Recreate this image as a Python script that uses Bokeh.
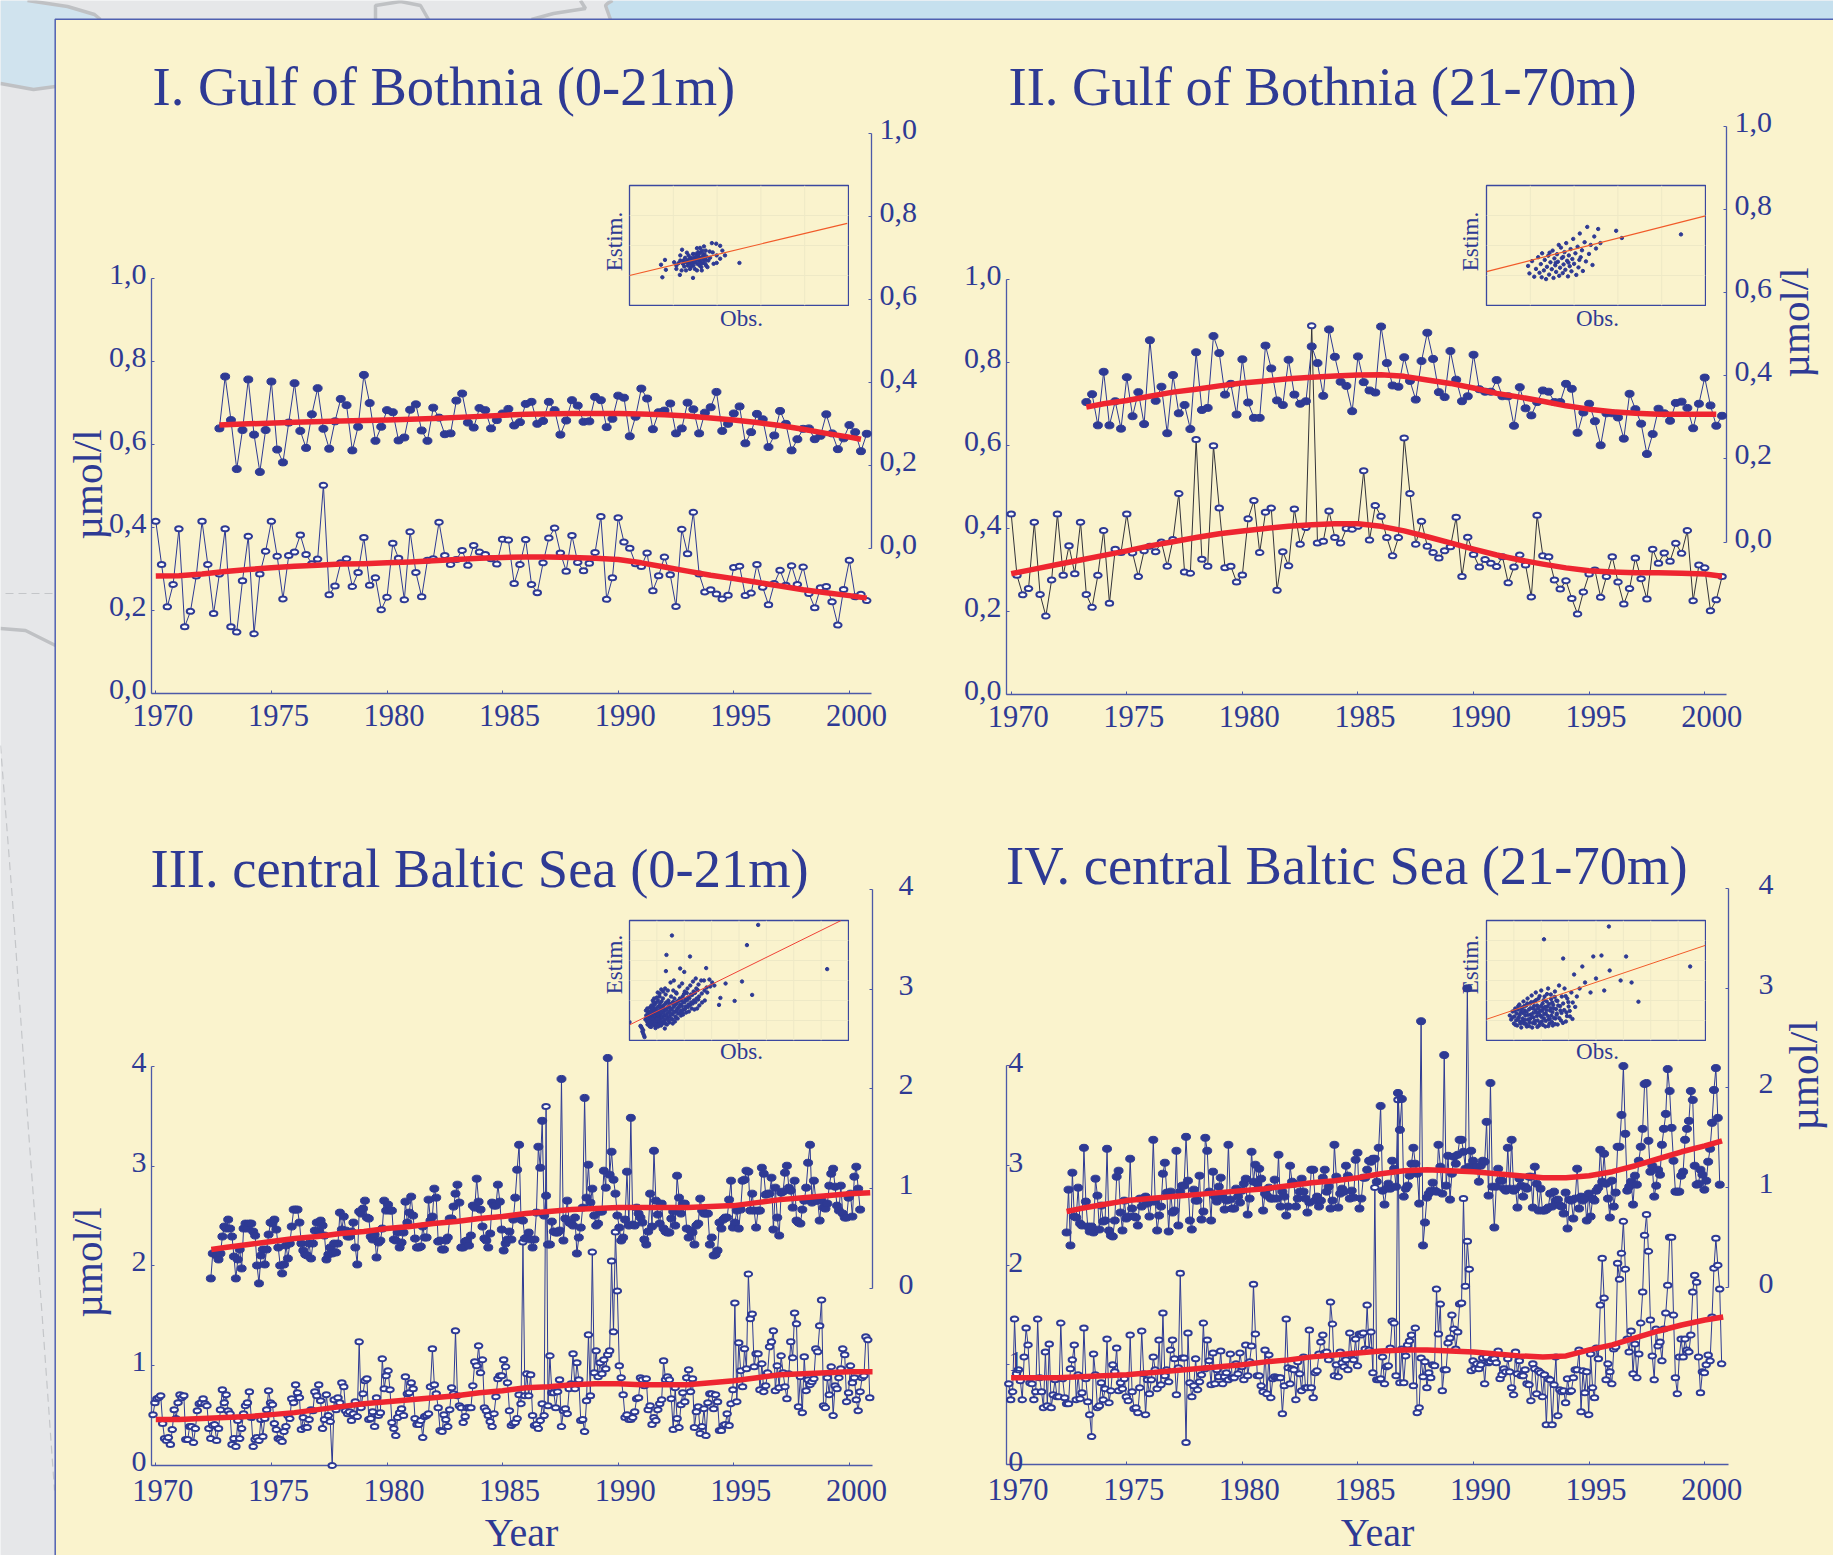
from bokeh.plotting import figure
from bokeh.models import Range1d, LinearAxis, FixedTicker
from bokeh.core.properties import value
from bokeh.embed import file_html
from bokeh.resources import INLINE

SERIF = "Liberation Serif"
INK = "#2e3a94"
AXIS = "#4c59a8"
RED = "#ee2530"
CREAM = "#faf3cd"

# ---------------- Panel I (quarterly, lower on left scale, upper on right scale)
p1_low = [.415,.311,.209,.263,.397,.161,.198,.283,.415,.311,.193,.288,.397,.161,.148,.272,.379,.144,.288,.343,
 .415,.331,.228,.333,.341,.382,.335,.313,.324,.502,.238,.259,.315,.325,.258,.292,.376,.261,.279,.202,
 .232,.362,.326,.226,.390,.292,.233,.321,.325,.413,.333,.311,.323,.345,.309,.357,.341,.335,.325,.312,
 .372,.370,.265,.311,.371,.263,.243,.315,.375,.399,.339,.295,.381,.316,.296,.314,.340,.427,.227,.279,
 .424,.365,.350,.313,.306,.339,.248,.284,.329,.286,.210,.396,.337,.437,.288,.245,.250,.240,.228,.237,
 .304,.307,.236,.242,.311,.256,.214,.265,.297,.261,.308,.263,.305,.241,.207,.255,.258,.221,.165,.251,
 .321,.233,.239,.224]
p1_up = [.289,.414,.309,.191,.285,.407,.274,.184,.285,.402,.238,.207,.303,.398,.283,.242,.323,.386,.288,.240,
 .306,.360,.345,.236,.293,.418,.350,.259,.293,.333,.328,.260,.267,.334,.347,.284,.259,.339,
 .315,.275,.277,.356,.373,.303,.291,.338,.333,.289,.309,.325,.336,.296,.304,.348,.353,.300,.307,.353,
 .333,.274,.308,.357,.344,.305,.306,.365,.357,.292,.312,.368,.363,.270,.317,.385,.361,.287,.328,.332,
 .349,.277,.289,.351,.335,.277,.327,.340,.377,.283,.300,.325,.342,.253,.280,.324,.311,.244,.272,.331,
 .300,.236,.263,.288,.289,.263,.271,.323,.277,.239,.265,.297,.280,.234,.276]
p1_low_trend_t = [1970,1971,1972,1973,1974,1975,1976,1977,1978,1979,1980,1981,1982,1983,1984,1985,1986,1987,1988,1989,1990,1991,1992,1993,1994,1995,1996,1997,1998,1999,2000,2000.75]
p1_low_trend = [.283,.284,.288,.294,.299,.303,.307,.309,.312,.313,.315,.317,.320,.323,.326,.328,.329,.329,.328,.326,.323,.315,.305,.295,.285,.277,.268,.259,.250,.243,.236,.230]
p1_up_trend_t = [1972.75,1974,1976,1978,1980,1982,1984,1986,1988,1990,1991,1992,1993,1994,1995,1996,1997,1998,1999,2000,2000.5]
p1_up_trend = [.297,.300,.304,.307,.309,.313,.318,.323,.325,.325,.324,.322,.319,.314,.309,.303,.296,.287,.277,.268,.263]

# ---------------- Panel II
p2_low = [.435,.287,.240,.255,.415,.241,.189,.276,.435,.287,.358,.291,.415,.241,.210,.287,.395,.220,.350,.342,
 .435,.341,.284,.346,.357,.344,.367,.309,.373,.484,.295,.292,.614,.326,.309,.599,.449,.305,.309,.271,
 .288,.423,.467,.342,.439,.449,.251,.344,.310,.447,.362,.402,.888,.365,.369,.442,.378,.365,.400,.398,
 .405,.539,.372,.455,.429,.378,.334,.378,.618,.484,.362,.417,.357,.342,.329,.346,.356,.427,.284,.379,
 .337,.307,.325,.316,.308,.332,.269,.307,.336,.312,.235,.432,.334,.332,.276,.254,.274,.231,.194,.247,
 .290,.300,.234,.284,.332,.271,.218,.255,.329,.279,.230,.350,.316,.341,.321,.364,.340,.395,.226,.312,
 .305,.202,.228,.284]
p2_up = [.337,.356,.281,.410,.281,.339,.273,.397,.303,.361,.284,.486,.340,.374,.262,.402,.310,.330,.272,.457,
 .318,.323,.496,.455,.355,.381,.307,.440,.336,.299,.299,.473,.418,.341,.330,.439,.355,.333,.339,.471,
 .431,.352,.512,.446,.386,.376,.315,.447,.385,.365,.360,.519,.431,
 .377,.374,.445,.388,.343,.436,.504,.441,.361,.349,.460,.391,.339,.351,.451,.368,.362,.362,.390,.351,
 .351,.280,.373,.322,.305,.337,.365,.362,.337,.337,.381,.369,.263,.312,.333,.291,.233,.310,.310,.300,
 .249,.357,.320,.285,.212,.260,.321,.310,.292,.335,.338,.323,.274,.333,.396,.329,.280,.304]
p2_low_trend_t = p1_low_trend_t
p2_low_trend = [.291,.302,.313,.324,.335,.346,.358,.368,.378,.387,.394,.400,.405,.409,.411,.411,.405,.394,.380,.365,.350,.336,.324,.314,.305,.298,.295,.293,.293,.292,.290,.285]
p2_up_trend_t = [1973.25,1974,1975,1976,1977,1978,1979,1980,1981,1982,1983,1984,1985,1986,1987,1988,1989,1990,1991,1992,1993,1994,1995,1996,1997,1998,1999,2000,2000.5]
p2_up_trend = [.325,.333,.341,.351,.361,.368,.376,.383,.388,.393,.397,.400,.402,.403,.399,.390,.382,.371,.358,.349,.339,.328,.320,.314,.310,.308,.308,.308,.308]

# ---------------- Panel III (monthly)
p3_low = [.51,.63,.67,.68,.70,.42,.27,.25,.28,.21,.36,.56,
 .47,.63,.71,.68,.70,.26,.26,.39,.39,.23,.37,.55,
 .62,.63,.67,.62,.60,.37,.27,.40,.41,.25,.37,.56,
 .76,.63,.71,.55,.52,.21,.27,.19,.45,.27,.37,.52,
 .60,.63,.74,.48,.19,.26,.28,.25,.46,.29,.47,.56,
 .75,.63,.61,.42,.36,.27,.26,.24,.34,.39,.50,.47,
 .67,.63,.81,.73,.68,.36,.48,.38,.38,.46,.56,.55,
 .74,.70,.81,.65,.37,.46,.71,.50,.44,.0,.66,.56,
 .68,.63,.83,.79,.55,.52,.54,.45,.52,.64,.49,1.24,
 .58,.72,.85,.87,.46,.47,.54,.39,.68,.50,.53,1.07,
 .77,.90,.95,.76,.43,.37,.30,.48,.53,.57,.50,.89,
 .72,.73,.83,.77,.47,.41,.41,.45,.28,.49,.50,.52,
 .79,1.17,.81,.72,.58,.35,.34,.51,.46,.39,.56,.78,
 .72,1.35,.70,.60,.58,.43,.49,.58,.58,.58,.80,1.04,
 1.00,1.20,.93,1.06,.58,.55,.50,.44,.39,.52,.69,.87,
 .90,.90,1.06,.99,.83,.55,.40,.42,.43,.47,.71,.62,2.24,.70,.92,.70,.91,.50,.40,.41,.37,.45,.62,.50,3.60,.60,
 1.10,.73,.73,.58,.74,.86,.39,.55,.57,.52,.77,.82,1.12,.77,1.03,.86,.45,.46,.34,.65,1.31,.70,2.14,.93,
 1.15,.89,1.03,.92,1.06,.97,1.11,1.15,2.05,1.34,2.34,1.75,1.00,.88,.71,.48,.51,.46,.46,.48,.54,.67,.68,.88,
 .86,.80,.87,.56,.60,.41,.48,.45,.56,.62,.66,1.05,.86,.89,.86,.67,.36,.78,.47,.38,.61,.73,.64,.88,
 .96,.74,.87,.38,.54,.59,.32,.39,.57,.30,.63,.72,.72,.57,.71,.64,.35,.35,.40,.41,.52,.40,.62,.76,
 1.63,.64,1.23,.95,.79,1.17,.97,1.92,1.47,1.52,.99,1.12,1.12,.76,1.02,.74,.80,.93,1.19,1.24,1.35,.75,1.00,.78,
 1.10,.93,.79,.67,.92,1.24,1.08,1.53,1.42,.59,.89,.53,1.09,.75,.86,.81,.84,.87,1.17,1.14,1.40,1.66,.60,.58,
 .88,.71,.99,.50,.80,.77,.88,.97,1.17,1.11,.64,.73,1.00,.83,.88,.66,.55,.74,.88,.90,1.29,1.26,.68]
p3_up = [.10,.35,.35,.33,.29,.35,.52,.62,.60,.69,.60,.52,.32,.10,.29,.39,.20,.60,.65,.60,.65,.65,.57,.53,
 .23,.05,.33,.39,.24,.39,.54,.66,.65,.69,.59,.41,.23,.15,.24,.43,.30,.45,.62,.79,.79,.79,.66,.45,
 .38,.34,.33,.45,.30,.45,.58,.66,.57,.68,.63,.53,.29,.34,.41,.35,.45,.36,.45,.76,.59,.72,.58,.52,
 .52,.57,.66,.41,.24,.77,.75,.80,.88,.71,.70,.52,.49,.54,.31,.46,.48,.60,.88,.78,.84,.78,.78,.49,
 .48,.56,.41,.46,.56,.87,.66,.76,.92,.73,.50,.41,.41,.42,.62,.51,.51,.89,.68,.72,1.00,.91,.47,.48,
 .39,.39,.48,.51,.70,.70,.82,.95,1.04,.86,.41,.41,.47,.48,.43,.53,.83,.81,1.10,.87,.79,.62,.50,.48,
 .41,.55,.86,.83,.83,1.04,.87,.59,.38,.45,.49,.57,.49,.69,.91,1.19,1.44,.69,.68,.50,.51,.56,.49,.41,
 .49,.76,1.42,1.21,1.68,.73,.93,.44,.44,.67,.57,.56,.56,.58,2.10,.48,.70,.88,.66,.65,.63,.71,.35,.51,
 .61,.81,1.91,.91,1.24,.86,1.00,.73,.63,.65,.77,.77,1.18,1.01,2.31,1.14,1.37,1.09,.95,.73,.61,.48,.51,.69,
 1.17,.63,1.71,.64,.63,.81,.75,.71,.66,.49,.44,.57,.95,.62,1.38,.88,.74,.65,.85,.60,.57,.56,.56,.70,
 .77,.63,1.13,.91,.75,.85,.85,.60,.51,.58,.56,.44,.63,.65,.90,.78,.75,.75,.75,.44,.51,.33,.34,.38,
 .66,.60,.69,.71,.71,.89,1.08,.61,.66,.78,.60,.79,1.08,1.09,1.18,1.17,.78,.95,.78,.61,.78,.78,1.21,1.15,
 .94,.95,.95,1.11,.59,1.01,.71,.53,.96,.97,1.16,1.23,1.01,.98,.81,1.08,.68,.66,.65,.79,.88,1.01,1.26,1.44,
 .86,1.08,.88,.88,.68,.88,.81,.80,.85,1.03,1.15,1.20,1.02,.83,.78,1.03,.75,.71,.71,.91,.95,.72,1.12,1.22,1.00,.79]
p3_low_trend_t = list(range(1970, 2002))
p3_low_trend = [.46,.46,.47,.48,.49,.51,.53,.56,.59,.62,.64,.66,.68,.70,.73,.75,.78,.79,.81,.82,.82,.81,.81,.81,.83,.85,.88,.91,.92,.93,.94,.94]
p3_up_trend_t = [1972.4,1973,1974,1975,1976,1977,1978,1979,1980,1981,1982,1983,1984,1985,1986,1987,1988,1989,1990,1991,1992,1993,1994,1995,1996,1997,1998,1999,2000,2000.9]
p3_up_trend = [.39,.41,.44,.47,.50,.52,.55,.57,.60,.62,.65,.67,.70,.72,.75,.77,.79,.80,.81,.81,.81,.81,.82,.83,.86,.89,.91,.93,.95,.96]

# ---------------- Panel IV (monthly)
p4_low = [.81,.65,.73,1.46,.91,.95,.84,.65,1.08,1.37,1.20,.82,.81,.65,.73,1.46,.87,.73,.57,1.13,.59,1.21,.57,.70,
 .85,.68,.68,1.42,.86,.67,.61,.61,.96,1.05,1.20,.65,.90,.66,.72,1.37,.86,.63,.50,.28,1.11,.90,.57,.59,
 .82,.65,.76,1.26,.62,.74,1.00,.93,1.17,.74,.82,.76,.86,.68,.64,1.30,.73,.56,.57,.52,.77,1.34,.91,.50,
 .85,.71,.85,1.08,.95,.76,1.25,.80,1.52,.89,.95,.83,1.15,1.25,1.06,.70,.97,1.92,1.07,1.07,.22,1.32,.82,.68,
 .79,1.06,.75,.83,.90,1.42,.96,1.25,1.04,.80,1.12,.81,.95,.88,1.14,.81,.88,.92,.85,1.11,.87,.87,1.01,.91,
 1.12,.98,.85,1.20,.89,1.03,1.19,1.81,1.31,.89,.89,.79,.73,1.15,.71,1.10,.67,.86,.88,.87,.87,.87,.51,.79,
 1.46,.97,.81,.96,.95,.65,1.03,.91,.74,1.08,.77,.77,1.35,.77,.67,.92,.94,1.11,1.23,1.30,1.12,1.13,1.05,1.63,
 1.41,.89,1.00,.88,1.13,1.02,.98,1.05,.95,1.32,1.11,1.05,1.26,.99,1.31,1.30,1.32,1.16,1.60,1.15,1.33,.92,2.78,.85,
 .85,.86,1.08,.81,.98,.99,1.17,1.44,1.42,.89,3.66,.82,1.16,.82,1.09,1.20,1.24,1.30,.79,1.37,.52,.57,1.07,.88,
 1.03,.77,.92,.87,1.00,.99,1.76,1.31,1.61,.74,.95,.95,1.22,1.27,1.50,1.36,1.16,1.33,1.61,1.62,2.67,1.79,2.24,1.96,
 .94,1.04,.96,1.01,.96,1.00,1.07,.81,1.08,1.02,1.03,1.06,1.06,1.02,1.14,.86,.90,.96,.93,1.06,.93,.77,.70,1.13,
 .91,1.04,.89,.89,.95,.81,.80,.64,1.01,.96,.71,.94,.92,.68,.90,.40,.86,.85,.40,.80,1.08,.49,.75,.73,
 .74,.62,.86,.73,.74,.87,.95,.95,1.15,.53,.94,.72,.93,.50,1.11,.77,.67,1.17,1.06,1.60,2.07,1.67,.85,1.01,
 .93,.81,1.16,1.18,2.02,1.86,2.12,2.44,1.96,1.26,1.13,1.34,.91,1.21,.87,1.11,1.42,1.73,2.30,2.51,2.14,1.45,1.09,.85,
 1.36,1.19,1.23,1.04,1.36,1.52,1.80,2.28,2.28,1.50,.87,.71,1.08,1.26,1.08,1.26,1.15,1.13,1.30,1.73,1.90,1.83,1.08,.72,
 .93,.92,1.00,1.10,1.04,1.48,1.97,2.27,2.00,1.76,1.01]
p4_up = [.55,.98,.42,1.15,.71,.70,1.00,.64,.62,1.40,.86,.61,.56,.61,.55,1.09,.92,.58,.82,.66,.67,1.39,.57,.52,
 .51,.67,1.11,1.17,.75,.57,.87,.69,.71,1.29,.79,.71,.70,.62,.89,.81,.89,.91,.84,.71,.86,1.48,.86,.57,
 .72,.81,1.14,1.25,.95,.56,.96,.75,.77,1.37,.62,.96,1.02,1.02,1.51,1.07,.67,.58,.98,.87,.87,1.12,.68,.76,
 1.50,1.37,.96,.67,1.16,.91,.86,1.01,1.10,.90,.78,.87,1.43,.88,.79,.79,.99,.91,.85,.97,1.04,1.09,.73,.89,
 1.36,1.06,1.23,1.04,1.19,1.09,.77,.94,.92,1.00,.89,.89,1.08,.89,1.33,.81,.96,.91,.72,.81,1.22,1.06,1.04,.81,
 .89,.96,1.09,.96,.89,.75,.85,1.18,1.18,.87,.91,.81,.87,1.10,1.18,.96,1.01,.79,.87,1.43,1.11,.80,.94,.99,
 .96,1.22,1.12,.89,.97,.90,1.28,1.35,.79,.89,1.10,1.10,1.18,1.27,1.26,1.29,1.29,1.06,1.40,1.82,.97,.83,.99,1.04,
 .99,1.27,1.19,1.01,1.95,1.58,1.89,.91,.99,1.02,1.12,1.24,1.40,1.24,1.14,.84,2.67,.42,.65,.90,.94,.97,1.05,.97,
 .96,1.43,1.21,.94,2.33,1.02,1.32,.88,1.14,1.31,1.24,1.33,1.48,1.48,1.36,1.19,3.0,1.21,1.37,1.27,1.21,1.21,1.06,1.22,
 1.27,1.26,1.66,.92,2.05,1.01,.60,1.01,1.19,1.07,1.07,.99,.97,1.40,.99,1.48,.97,.99,.80,1.09,1.02,.91,1.01,.99,
 1.11,1.11,.80,1.21,1.04,.77,.99,.77,.77,.78,.80,.94,.81,.96,.87,.88,.82,.81,.74,.95,.59,.88,.87,.69,
 .89,1.19,.79,.91,.87,.89,.67,.94,.71,.89,.87,.97,1.00,1.38,1.06,1.34,1.04,.89,.70,1.07,.81,.95,1.41,1.41,
 1.73,2.22,1.54,.97,1.01,1.06,.83,1.12,1.03,1.27,1.41,1.59,2.04,2.05,1.47,1.16,1.22,.91,1.02,1.18,1.13,1.43,1.59,1.74,
 2.19,1.97,1.60,1.27,.96,.96,.96,1.12,1.16,1.48,1.59,1.67,1.97,1.88,1.22,1.03,1.04,1.18,1.13,.98,1.07,1.26,1.39,1.65,
 1.98,2.20,1.70,1.03]
p4_low_trend_t = list(range(1970, 2001)) + [2000.8]
p4_low_trend = [.87,.87,.87,.88,.89,.90,.92,.94,.96,.98,1.00,1.03,1.05,1.08,1.10,1.12,1.14,1.15,1.15,1.14,1.13,1.11,1.09,1.08,1.09,1.15,1.20,1.27,1.34,1.40,1.45,1.48]
p4_up_trend_t = [1972.4,1973,1974,1975,1976,1977,1978,1979,1980,1981,1982,1983,1984,1985,1986,1987,1988,1989,1990,1991,1992,1993,1994,1995,1996,1997,1998,1999,2000,2000.75]
p4_up_trend = [.76,.79,.83,.87,.89,.91,.93,.95,.97,.99,1.02,1.05,1.07,1.10,1.14,1.17,1.18,1.17,1.16,1.14,1.12,1.10,1.10,1.12,1.16,1.22,1.29,1.36,1.42,1.47]

# ---------------- Insets (obs, estim)
in1 = [(.72,1.36),(.75,.94),(.81,1.52),(.83,1.19),(1.02,1.44),(1.07,1.33),(1.07,1.22),(1.15,1.02),(1.16,1.67),(1.20,1.86),(1.19,1.17),(1.12,1.41),
 (1.23,1.50),(1.27,1.59),(1.29,1.17),(1.31,1.76),(1.33,1.33),(1.37,1.56),(1.38,1.41),(1.40,1.28),(1.45,.92),(1.45,1.72),(1.48,1.59),(1.50,1.44),
 (1.54,1.91),(1.54,1.17),(1.56,1.67),(1.58,1.50),(1.60,1.33),(1.61,1.92),(1.63,1.77),(1.65,1.59),(1.65,1.17),(1.67,1.41),(1.70,1.97),(1.71,1.72),
 (1.74,1.52),(1.75,1.33),(1.78,1.28),(1.83,1.80),(1.84,1.59),(1.88,2.08),(1.90,1.77),(1.92,1.39),(1.98,2.06),(1.99,1.67),(1.99,1.42),(2.07,1.99),
 (2.07,1.56),(2.12,1.83),(2.18,1.67),(2.51,1.42),(1.16,1.50),(1.22,1.39),(1.25,1.30),(1.29,1.44),(1.32,1.50),(1.35,1.67),(1.38,1.22),(1.41,1.59),
 (1.43,1.50),(1.46,1.33),(1.49,1.22),(1.51,1.72),(1.53,1.54),(1.55,1.39),(1.57,1.78),(1.60,1.59),(1.62,1.48),(1.64,1.28),(1.66,1.83),(1.68,1.67),
 (1.70,1.52),(1.73,1.39),(1.74,1.83),(1.76,1.63),(1.80,1.50),(1.47,1.45),(1.52,1.62),(1.58,1.70),(1.42,1.38),(1.34,1.42),(1.62,1.40),(1.69,1.60)]
in1_line_obs = [0, 4.97]
in1_line_est = [1.0, 2.74]
in2 = [(.95,1.32),(.98,1.07),(1.04,1.48),(1.09,.96),(1.13,1.22),(1.18,1.61),(1.21,1.09),(1.24,1.38),(1.27,1.74),(1.31,1.17),(1.33,1.52),(1.36,.88),(1.38,1.29),
 (1.41,1.66),(1.43,1.03),(1.46,1.44),(1.49,1.21),(1.51,1.83),(1.53,.92),(1.55,1.57),(1.57,1.34),(1.59,1.12),(1.61,1.71),(1.63,1.46),(1.66,.99),(1.68,1.26),
 (1.7,1.93),(1.72,1.58),(1.74,1.08),(1.76,1.37),(1.78,1.78),(1.8,1.19),(1.82,2.08),(1.84,1.49),(1.86,.97),(1.88,1.67),(1.9,1.31),(1.92,1.88),(1.94,1.14),
 (1.96,1.55),(1.98,2.22),(2.0,1.39),(2.03,1.74),(2.05,1.02),(2.08,1.96),(2.1,1.27),(2.13,2.4),(2.15,1.61),(2.18,1.84),(2.2,1.15),(2.24,2.11),(2.27,1.47),
 (2.3,2.62),(2.34,1.72),(2.38,2.02),(2.42,1.35),(2.46,2.3),(2.5,1.9),(2.55,2.55),(2.6,2.08),(1.44,1.76),(1.65,2.02),(1.26,.94),(1.75,1.62),(2.12,1.52),
 (1.58,1.42),(1.87,1.43),(2.96,2.49),(3.09,2.25),(4.44,2.37)]
in2_line_obs = [0, 5]
in2_line_est = [1.13, 2.99]
in3 = [(4.70,5.78),(4.29,4.77),(1.55,5.25),(1.35,4.28),(2.21,4.2),(1.33,3.47),(1.85,3.6),(2.0,3.43),(2.80,3.62),(7.22,3.57),(4.11,2.95),(3.51,2.85),(4.48,2.28),
 (3.84,1.98),(3.32,2.13),(3.27,1.78),(0,.92),(.4,.73),(.45,.62),(.47,.45),(.5,.35),(.53,.25),(.55,.17),(.5,.52),(.42,.7),(.6,1.5),(.61,1.25),(.58,1.05),
 (.65,1.6),(.67,1.35),(.64,.95),(.66,.8),(.7,1.45),(.72,1.2),(.71,1.0),(.69,.85),(.73,.75),(.75,1.65),(.77,1.3),(.76,1.1),(.78,.9),(.74,.7),(.8,1.5),(.82,1.25),
 (.81,1.05),(.83,.85),(.79,.68),(.85,2.0),(.87,1.7),(.86,1.4),(.88,1.15),(.84,.95),(.89,.78),(.9,2.1),(.92,1.8),(.91,1.55),(.93,1.3),(.94,1.1),(.96,.9),(.95,.72),
 (.97,1.9),(.98,1.6),(.99,1.35),(1.0,1.15),(1.01,.95),(1.02,.8),(1.03,2.4),(1.04,2.0),(1.05,1.7),(1.06,1.45),(1.07,1.2),(1.08,1.0),(1.09,.85),(1.1,2.2),(1.11,1.85),
 (1.12,1.55),(1.13,1.3),(1.14,1.1),(1.15,.9),(1.16,2.55),(1.17,1.95),(1.18,1.65),(1.19,1.4),(1.2,1.15),(1.21,.95),(1.29,.6),(1.22,2.1),(1.24,1.75),(1.26,1.5),(1.27,1.25),
 (1.28,1.05),(1.3,.85),(1.32,2.3),(1.34,1.9),(1.36,1.6),(1.38,1.35),(1.39,1.1),(1.37,.8),(1.42,2.0),(1.44,1.7),(1.45,1.45),(1.47,1.2),(1.46,.9),(1.5,2.9),(1.52,2.2),
 (1.54,1.85),(1.55,1.55),(1.57,1.3),(1.56,1.05),(1.58,.85),(1.62,3.0),(1.64,2.1),(1.65,1.75),(1.67,1.45),(1.68,1.2),(1.66,.95),(1.72,2.35),(1.74,1.95),(1.75,1.6),(1.77,1.35),
 (1.76,1.1),(1.82,2.7),(1.84,2.1),(1.85,1.8),(1.87,1.5),(1.88,1.25),(1.92,2.85),(1.94,2.2),(1.95,1.9),(1.97,1.55),(1.96,1.3),(2.02,2.45),(2.04,2.05),(2.05,1.7),(2.07,1.4),
 (2.12,2.6),(2.14,2.15),(2.15,1.8),(2.17,1.45),(2.22,2.75),(2.24,2.3),(2.25,1.9),(2.27,1.6),(2.32,2.95),(2.34,2.45),(2.35,2.0),(2.37,1.55),(2.42,3.1),(2.44,2.6),(2.45,2.1),
 (2.47,1.6),(2.52,2.8),(2.54,2.2),(2.55,1.75),(2.62,3.0),(2.64,2.35),(2.65,1.9),(2.72,3.0),(2.74,2.5),(2.75,2.0),(2.82,2.65),(2.84,2.4),(2.92,3.05),(2.95,2.7),(3.02,2.9),(3.1,2.75),
 (.62,1.12),(.68,.92),(.73,1.38),(.77,.82),(.83,1.62),(.86,1.08),(.91,1.23),(.93,.97),(.98,1.47),(1.01,1.08),(1.04,1.28),(1.07,.78),(1.11,1.72),(1.14,1.42),(1.17,1.18),(1.19,.83),
 (1.23,1.62),(1.25,1.38),(1.28,.93),(1.31,1.83),(1.33,1.52),(1.35,1.22),(1.41,1.02),(1.43,1.88),(1.48,1.62),(1.49,1.37),(1.53,1.08),(1.59,1.92),(1.61,1.68),(1.63,1.42),(1.69,1.12),
 (1.71,1.83),(1.73,1.52),(1.79,1.98),(1.81,1.68),(1.83,1.38),(1.89,2.02),(1.91,1.72),(1.93,1.42),(1.99,2.32),(2.01,1.92),(2.03,1.58),(2.09,2.38),(2.11,2.02),(2.13,1.68),(2.19,2.12),
 (2.21,1.78),(2.29,2.28),(2.31,1.85),(2.39,2.38),(2.41,1.92),(2.49,2.52),(2.51,2.05),(.88,1.9),(1.0,2.15),(1.1,2.35),(.8,1.75),(1.23,2.45),(1.4,2.5),(1.3,2.6),(1.6,2.5),(1.7,2.4),
 (.95,.62),(1.05,.7),(1.15,.75)]
in3_line_obs = [0, 7.73]
in3_line_est = [.78, 6.0]
in4 = [(2.1,5.06),(4.47,5.7),(7.44,3.7),(5.55,1.94),(2.8,4.1),(3.9,4.2),(4.2,4.25),(3.5,3.7),(5.1,4.2),(4.5,3.5),(3.2,3.3),(3.6,2.9),(4.0,3.1),(4.9,3.0),(5.3,2.9),(4.3,2.5),(3.8,2.4),(3.4,2.6),
 (.85,1.25),(.9,1.05),(.95,1.45),(1.0,.85),(1.02,1.2),(1.05,1.6),(1.08,1.0),(1.1,1.35),(1.12,.75),(1.15,1.55),(1.18,1.15),(1.2,1.8),(1.22,.95),(1.25,1.4),(1.27,.65),(1.3,1.65),
 (1.32,1.1),(1.35,1.95),(1.37,.85),(1.4,1.5),(1.42,1.25),(1.45,1.75),(1.47,.7),(1.5,2.1),(1.52,1.05),(1.55,1.55),(1.57,.9),(1.6,1.85),(1.62,1.3),(1.65,2.25),(1.67,.65),(1.7,1.6),
 (1.72,1.15),(1.75,1.95),(1.77,.85),(1.8,2.4),(1.82,1.4),(1.85,1.75),(1.87,1.0),(1.9,2.1),(1.92,.75),(1.95,1.5),(1.97,1.25),(2.0,2.5),(2.02,.95),(2.05,1.85),(2.07,1.6),(2.1,1.1),
 (2.12,2.2),(2.15,.7),(2.17,1.35),(2.2,1.95),(2.22,1.7),(2.25,2.6),(2.27,1.05),(2.3,.85),(2.32,1.5),(2.35,2.3),(2.37,1.25),(2.4,1.9),(2.42,.75),(2.45,1.6),(2.5,2.45),(2.52,1.1),
 (2.55,2.0),(2.57,1.35),(2.6,.8),(2.62,1.75),(2.65,2.75),(2.7,1.5),(2.72,1.0),(2.75,2.2),(2.8,1.85),(2.85,2.6),(2.9,.95),(2.92,1.4),(2.95,2.1),(3.0,1.7),(3.05,1.2),(3.1,2.4),(3.15,1.9),
 (.95,1.15),(1.03,1.48),(1.06,.78),(1.14,1.08),(1.16,1.72),(1.21,1.28),(1.24,.85),(1.28,1.55),(1.31,.95),(1.34,1.38),(1.38,1.72),(1.41,1.02),(1.44,.82),(1.46,1.42),(1.49,1.85),(1.53,1.28),
 (1.56,.72),(1.59,1.08),(1.61,1.62),(1.64,1.92),(1.66,1.18),(1.69,.88),(1.71,1.38),(1.74,1.72),(1.76,.98),(1.79,1.52),(1.81,2.02),(1.84,1.22),(1.86,.68),(1.89,1.62),(1.91,1.38),(1.94,2.22),
 (1.96,.88),(1.99,1.72),(2.01,1.18),(2.04,1.48),(2.06,.78),(2.09,2.02),(2.11,1.32),(2.14,1.68),(2.16,.98),(2.19,1.52),(2.21,2.32),(2.24,1.22),(2.26,.72),(2.29,1.82),(2.31,1.08),(2.34,1.62),
 (2.36,2.08),(2.39,.92),(2.41,1.42),(2.44,1.78),(2.46,1.12),(2.49,2.18),(2.51,.82),(2.54,1.58),(2.56,1.28),(2.59,1.98),(2.66,1.12),(2.69,1.72),(2.74,1.38),(2.79,.88),(2.84,1.52),(2.89,2.22),
 (2.94,1.22),(2.99,1.92),(3.04,1.48),(3.14,1.08),(3.24,1.68),(3.3,2.2)]
in4_line_obs = [0, 8]
in4_line_est = [1.06, 4.76]

one_decimal = {0: "0,0", .2: "0,2", .4: "0,4", .6: "0,6", .8: "0,8", 1: "1,0"}
ticks_q = [0, .2, .4, .6, .8, 1]
ticks_m = [0, 1, 2, 3, 4]
year_ticks = [1970, 1975, 1980, 1985, 1990, 1995, 2000]

W, H = 1833, 1555

def place(fig, left, top):
    fig.styles = {"position": "absolute", "left": f"{left}px", "top": f"{top}px"}

def serif_text(p, x, y, s, size, color=INK, align="left", baseline="alphabetic", angle=0):
    p.text([x], [y], text=[s], text_font=value(SERIF), text_font_size=f"{size}px", text_color=color,
           text_align=align, text_baseline=baseline, angle=angle)

# ---- background page
bg = figure(width=W, height=H, x_range=Range1d(0, W), y_range=Range1d(H, 0), x_axis_type=None, y_axis_type=None,
            toolbar_location=None, output_backend="svg", min_border=0, outline_line_color=None,
            background_fill_color="#e6e7e9", border_fill_color="#e6e7e9")
bg.grid.visible = False
place(bg, 0, 0)
bg.patch([0, 27, 67, 94, 100, 54, 33, 0], [0, 0, 6, 14, 19, 86, 88, 83], color="#d0e3ee", line_color=None)
bg.patch([607, 1833, 1833, 610, 605], [0, 0, 19, 19, 5], color="#c6e0ee", line_color=None)
for xs, ys in [([0, 33, 55], [83, 89, 86]), ([27, 67, 94, 100], [0, 6, 14, 19]),
               ([375, 375, 400, 420, 428], [19, 5, 1, 5, 19]), ([531, 553, 585, 580], [19, 13, 8, 0]),
               ([610, 605, 607, 612], [19, 5, 3, 0]), ([0, 25, 55], [628, 630, 645])]:
    bg.line(xs, ys, line_color="#bfc1c4", line_width=3.5)
bg.line([5, 55], [593, 593], line_color="#c4c6c9", line_width=1, line_dash="8 5")
bg.line([0, 12, 28, 42, 54], [745, 900, 1130, 1320, 1490], line_color="#c4c6c9", line_width=1.2, line_dash="8 5")
bg.quad(left=[54.7], right=[1840], top=[18.7], bottom=[1560], fill_color=CREAM, line_color="#5060b0", line_width=1.5)

for x, y, s in [(152, 86, "I. Gulf of Bothnia (0-21m)"), (1008, 86, "II. Gulf of Bothnia (21-70m)"),
                (150, 868, "III. central Baltic Sea (0-21m)"), (1005.5, 865, "IV. central Baltic Sea (21-70m)")]:
    serif_text(bg, x, y, s, 54.5)
for x, y in [(87, 484), (1794, 322), (87, 1262), (1803, 1075)]:
    serif_text(bg, x, y, "µmol/l", 41, align="center", baseline="middle", angle=1.5708)
for x, y in [(521, 1532), (1377, 1532)]:
    serif_text(bg, x, y, "Year", 40, align="center", baseline="middle")
for x, y in [(741, 318), (1597, 318), (741, 1051), (1597, 1051)]:
    serif_text(bg, x, y, "Obs.", 23, align="center", baseline="middle")
for x, y in [(614, 241), (1470, 241), (614, 964), (1470, 964)]:
    serif_text(bg, x, y, "Estim.", 23, align="center", baseline="middle", angle=1.5708)

PX_YEAR = 23.13
X_LABEL_SHIFT = 7
Y_LABEL_SHIFT = 4

def panel(left, right, top, bottom, x1970, unit, right_zero, yticks, overrides, left_bounds, right_bounds,
          low, up, low_t0, up_t0, step, low_tr, up_tr, right_standoff, x_standoff, low_color=INK, hide_left=False):
    ml, mr, mt, mb = 90, 90, 40, 70
    width = int(round(right - left)) + ml + mr
    fh = bottom - top
    height = int(round(fh)) + mt + mb
    x0, x1 = 1970 + (left - x1970) / PX_YEAR, 1970 + (right - x1970) / PX_YEAR
    p = figure(width=width, height=height, x_range=Range1d(x0, x1), y_range=Range1d(0, fh / unit),
               x_axis_type=None, y_axis_type=None,
               toolbar_location=None, output_backend="svg", min_border_left=ml, min_border_right=mr,
               min_border_top=mt, min_border_bottom=mb, outline_line_color=None,
               background_fill_color=None, border_fill_color=None)
    p.grid.visible = False
    r0, r1 = -(bottom - right_zero) / unit, (right_zero - top) / unit
    s = Y_LABEL_SHIFT / unit
    p.extra_y_ranges = {"r": Range1d(r0, r1), "rl": Range1d(r0 - s, r1 - s), "ll": Range1d(-s, fh / unit - s)}
    p.extra_x_ranges = {"xl": Range1d(x0 - X_LABEL_SHIFT / PX_YEAR, x1 - X_LABEL_SHIFT / PX_YEAR)}
    place(p, left - ml, top - mt)

    # axis lines and ticks (labels come from the axes below)
    line_style = dict(axis_line_color=AXIS, axis_line_width=1.3, major_tick_line_color=AXIS, major_tick_in=3, major_tick_out=0,
                      minor_tick_line_color=None, major_label_text_color=None, major_label_text_font_size="1px",
                      major_label_standoff=0)
    p.add_layout(LinearAxis(ticker=FixedTicker(ticks=year_ticks), **line_style), "below")
    p.add_layout(LinearAxis(ticker=FixedTicker(ticks=yticks), bounds=left_bounds, **line_style), "left")
    p.add_layout(LinearAxis(y_range_name="r", ticker=FixedTicker(ticks=yticks), bounds=right_bounds, **line_style), "right")

    # the tick labels sit slightly off their ticks in the source figure
    label_style = dict(axis_line_color=None, major_tick_line_color=None, minor_tick_line_color=None, major_tick_in=0,
                       major_tick_out=0, major_label_text_color=INK, major_label_text_font=SERIF)
    p.add_layout(LinearAxis(x_range_name="xl", ticker=FixedTicker(ticks=year_ticks), major_label_standoff=x_standoff,
                            major_label_text_font_size="30.5px", **label_style), "below")
    if not hide_left:
        p.add_layout(LinearAxis(y_range_name="ll", ticker=FixedTicker(ticks=yticks), major_label_overrides=overrides,
                                major_label_standoff=5, major_label_text_font_size="30px", **label_style), "left")
    p.add_layout(LinearAxis(y_range_name="rl", ticker=FixedTicker(ticks=yticks), major_label_overrides=overrides,
                            major_label_standoff=right_standoff, major_label_text_font_size="30px", **label_style), "right")

    tl = [low_t0 + k / step for k in range(len(low))]
    tu = [up_t0 + k / step for k in range(len(up))]
    p.line(tl, low, line_color=low_color, line_width=1.0, level="overlay")
    p.ellipse(tl, low, width=7.5, height=5, width_units="screen", height_units="screen",
              fill_color="white", line_color=INK, line_width=2, level="overlay")
    p.line(tu, up, line_color=INK, line_width=1.0, y_range_name="r", level="overlay")
    p.ellipse(tu, up, width=9, height=7, width_units="screen", height_units="screen",
              fill_color=INK, line_color=INK, y_range_name="r", level="overlay")
    p.line(low_tr[0], low_tr[1], line_color=RED, line_width=5.5, level="overlay", line_join="round")
    p.line(up_tr[0], up_tr[1], line_color=RED, line_width=5.5, y_range_name="r", level="overlay", line_join="round")
    if hide_left:
        p.text([1970.2] * len(yticks), yticks, text=[str(t) for t in yticks], y_offset=-3,
               text_font=value(SERIF), text_font_size="30px", text_color=INK, text_align="center",
               text_baseline="middle", level="overlay")
    return p

p1 = panel(150.7, 871, 120, 693.3, 155, 415, 548, ticks_q, one_decimal, (0, 1), (0, 1),
           p1_low, p1_up, 1970, 1972.75, 4, (p1_low_trend_t, p1_low_trend), (p1_up_trend_t, p1_up_trend), 8, 11)
p2 = panel(1006.3, 1726.7, 115, 693.7, 1011, 415, 541.3, ticks_q, one_decimal, (0, 1), (0, 1),
           p2_low, p2_up, 1970, 1973.25, 4, (p2_low_trend_t, p2_low_trend), (p2_up_trend_t, p2_up_trend), 8, 11,
           low_color="#33333a")
p3 = panel(150.7, 872, 880, 1464.7, 155, 99.7, 1287.7, ticks_m, {}, (0, 4), (0, 4),
           p3_low, p3_up, 1969.88, 1972.38, 12, (p3_low_trend_t, p3_low_trend), (p3_up_trend_t, p3_up_trend), 26, 14)
p4 = panel(1005.7, 1728, 880, 1464.3, 1010.3, 99.7, 1287, ticks_m, {}, (0, 4), (0, 4),
           p4_low, p4_up, 1969.9, 1972.4, 12, (p4_low_trend_t, p4_low_trend), (p4_up_trend_t, p4_up_trend), 30, 14,
           hide_left=True)

def inset(left, top, data, line_obs, line_est, xmax, ymax, line_color, line_width):
    w, h = 219, 120
    q = figure(width=w + 2, height=h + 2, x_range=Range1d(0, xmax), y_range=Range1d(0, ymax), x_axis_type=None, y_axis_type=None,
               toolbar_location=None, output_backend="svg", min_border_left=1, min_border_right=1,
               min_border_top=1, min_border_bottom=1, outline_line_color="#3a479f", outline_line_width=1.3,
               background_fill_color=None, border_fill_color=None)
    place(q, left - 1, top - 1)
    q.grid.visible = False
    for v in range(1, xmax):
        q.line([v, v], [0, ymax], line_color="#eee9c6", line_width=1)
    for v in range(1, ymax):
        q.line([0, xmax], [v, v], line_color="#eee9c6", line_width=1)
    q.scatter([d[0] for d in data], [d[1] for d in data], size=3.4, color=INK)
    q.line(line_obs, line_est, line_color=line_color, line_width=line_width)
    return q

i1 = inset(629.3, 185, in1, in1_line_obs, in1_line_est, 5, 4, "#f15a29", 1.2)
i2 = inset(1486, 185, in2, in2_line_obs, in2_line_est, 5, 4, "#f15a29", 1.2)
i3 = inset(629.3, 920, in3, in3_line_obs, in3_line_est, 8, 6, "#ef4136", 1)
i4 = inset(1486, 920, in4, in4_line_obs, in4_line_est, 8, 6, "#f15a29", 1)

open("out.html", "w").write(file_html([bg, p1, p2, p3, p4, i1, i2, i3, i4], INLINE))
